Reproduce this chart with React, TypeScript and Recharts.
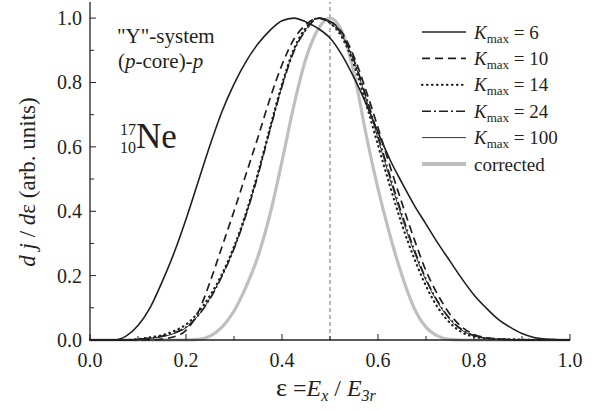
import React from 'react';
import { LineChart, Line, XAxis, YAxis, ReferenceLine } from 'recharts';

// ---- data ----
const eps = [0, 0.025, 0.05, 0.075, 0.1, 0.125, 0.15, 0.175, 0.2, 0.225, 0.25, 0.275, 0.3, 0.325, 0.35, 0.375, 0.4, 0.425, 0.45, 0.475, 0.5, 0.525, 0.55, 0.575, 0.6, 0.625, 0.65, 0.675, 0.7, 0.725, 0.75, 0.775, 0.8, 0.825, 0.85, 0.875, 0.9, 0.925, 0.95, 0.975, 1.0];
const kmax6 = [0, 0, 0, 0.012, 0.045, 0.1, 0.18, 0.27, 0.375, 0.49, 0.605, 0.71, 0.795, 0.865, 0.92, 0.962, 0.992, 1.0, 0.988, 0.968, 0.938, 0.885, 0.815, 0.735, 0.645, 0.56, 0.488, 0.42, 0.36, 0.3, 0.245, 0.19, 0.14, 0.1, 0.065, 0.04, 0.02, 0.008, 0.003, 0.001, 0];
const kmax10 = [0, 0, 0, 0, 0, 0, 0.003, 0.01, 0.03, 0.085, 0.18, 0.29, 0.4, 0.515, 0.63, 0.75, 0.855, 0.935, 0.98, 1.0, 0.99, 0.955, 0.88, 0.775, 0.66, 0.54, 0.425, 0.315, 0.215, 0.14, 0.08, 0.04, 0.017, 0.007, 0.003, 0.001, 0, 0, 0, 0, 0];
const kmax14 = [0, 0, 0, 0, 0.003, 0.008, 0.015, 0.028, 0.048, 0.085, 0.138, 0.205, 0.29, 0.395, 0.52, 0.66, 0.795, 0.905, 0.97, 1.0, 0.985, 0.94, 0.855, 0.735, 0.605, 0.478, 0.358, 0.255, 0.168, 0.1, 0.053, 0.024, 0.01, 0.005, 0.003, 0.002, 0.001, 0, 0, 0, 0];
const kmax24 = [0, 0, 0, 0, 0.002, 0.006, 0.012, 0.022, 0.04, 0.075, 0.128, 0.198, 0.283, 0.388, 0.512, 0.652, 0.787, 0.897, 0.963, 0.998, 0.99, 0.95, 0.87, 0.758, 0.635, 0.51, 0.39, 0.283, 0.19, 0.118, 0.066, 0.032, 0.014, 0.006, 0.003, 0.001, 0, 0, 0, 0, 0];
const kmax100 = [0, 0, 0, 0, 0.002, 0.005, 0.01, 0.02, 0.038, 0.075, 0.13, 0.2, 0.285, 0.39, 0.515, 0.655, 0.79, 0.9, 0.965, 1.0, 0.985, 0.945, 0.865, 0.75, 0.625, 0.5, 0.38, 0.275, 0.185, 0.115, 0.063, 0.03, 0.013, 0.006, 0.003, 0.001, 0, 0, 0, 0, 0];
const corrected = [0, 0, 0, 0, 0, 0, 0, 0, 0, 0.002, 0.012, 0.04, 0.09, 0.165, 0.26, 0.39, 0.555, 0.73, 0.875, 0.965, 1.0, 0.958, 0.83, 0.64, 0.47, 0.325, 0.2, 0.1, 0.04, 0.012, 0.002, 0, 0, 0, 0, 0, 0, 0, 0, 0, 0];

const xTicks = [0, 0.1, 0.2, 0.3, 0.4, 0.5, 0.6, 0.7, 0.8, 0.9, 1.0];
const yTicks = [0, 0.1, 0.2, 0.3, 0.4, 0.5, 0.6, 0.7, 0.8, 0.9, 1.0];
const seriesKeys = ['k6', 'k10', 'k14', 'k24', 'k100', 'corr'];
const seriesLabels = ['6', '10', '14', '24', '100', 'corrected'];

const rows = eps.map((e, i) => ({
  eps: e,
  k6: kmax6[i],
  k10: kmax10[i],
  k14: kmax14[i],
  k24: kmax24[i],
  k100: kmax100[i],
  corr: corrected[i],
}));

// ---- styles ----
const FONT = '"Liberation Serif", "Times New Roman", Times, serif';
const INK = '#231f20';
const GRAY = '#bdbfc1';

const styles: Record<string, { stroke: string; width: number; dash?: string; cap?: 'round' | 'butt' }> = {
  k6: { stroke: INK, width: 1.6 },
  k10: { stroke: INK, width: 1.7, dash: '8 5' },
  k14: { stroke: INK, width: 2.2, dash: '0.5 4.5', cap: 'round' },
  k24: { stroke: INK, width: 1.6, dash: '9 3 2 3' },
  k100: { stroke: INK, width: 0.9 },
  corr: { stroke: GRAY, width: 3.2 },
};

const isMajor = (v: number) => Math.round(v * 10) % 2 === 0;

const BottomTick = (p: any) => {
  const v = p.payload.value;
  const m = isMajor(v);
  return (
    <g>
      <line x1={p.x} x2={p.x} y1={p.y} y2={p.y - (m ? 6 : 4)} stroke={INK} strokeWidth={1} />
      {m && (
        <text x={p.x} y={p.y + 27} textAnchor="middle" fontSize={20} fontFamily={FONT} fill={INK}>
          {v.toFixed(1)}
        </text>
      )}
    </g>
  );
};

const TopTick = (p: any) => {
  const v = p.payload.value;
  const m = isMajor(v);
  return <line x1={p.x} x2={p.x} y1={p.y} y2={p.y + (m ? 6 : 4)} stroke={INK} strokeWidth={1} />;
};

const LeftTick = (p: any) => {
  const v = p.payload.value;
  const m = isMajor(v);
  return (
    <g>
      <line x1={p.x} x2={p.x + (m ? 6 : 4)} y1={p.y} y2={p.y} stroke={INK} strokeWidth={1} />
      {m && (
        <text x={p.x - 8} y={p.y + 7} textAnchor="end" fontSize={20} fontFamily={FONT} fill={INK}>
          {v.toFixed(1)}
        </text>
      )}
    </g>
  );
};

const RightTick = (p: any) => {
  const v = p.payload.value;
  const m = isMajor(v);
  return <line x1={p.x} x2={p.x - (m ? 6 : 4)} y1={p.y} y2={p.y} stroke={INK} strokeWidth={1} />;
};

export default function App() {
  const legendTop = 32;
  const legendStep = 26.4;
  return (
    <div style={{ position: 'absolute', left: 0, top: 0, width: 605, height: 410, background: '#fff' }}>
      <LineChart width={605} height={410} data={rows} margin={{ top: 2, right: 35, bottom: 40, left: 30 }}>
        <XAxis
          dataKey="eps"
          type="number"
          domain={[0, 1]}
          ticks={xTicks}
          interval={0}
          height={30}
          tickSize={0}
          tickMargin={0}
          tickLine={false}
          axisLine={{ stroke: INK, strokeWidth: 1.3 }}
          tick={<BottomTick />}
        />
        <XAxis
          xAxisId="top"
          orientation="top"
          dataKey="eps"
          type="number"
          domain={[0, 1]}
          ticks={xTicks}
          interval={0}
          height={0}
          tickSize={0}
          tickMargin={0}
          tickLine={false}
          axisLine={{ stroke: INK, strokeWidth: 1.3 }}
          tick={<TopTick />}
        />
        <YAxis
          type="number"
          domain={[0, 1.05]}
          ticks={yTicks}
          interval={0}
          width={60}
          tickSize={0}
          tickMargin={0}
          tickLine={false}
          axisLine={{ stroke: INK, strokeWidth: 1.3 }}
          tick={<LeftTick />}
        />
        <YAxis
          yAxisId="right"
          orientation="right"
          type="number"
          domain={[0, 1.05]}
          ticks={yTicks}
          interval={0}
          width={0}
          tickSize={0}
          tickMargin={0}
          tickLine={false}
          axisLine={{ stroke: INK, strokeWidth: 1.3 }}
          tick={<RightTick />}
        />
        <ReferenceLine x={0.5} stroke="#6d6e71" strokeWidth={1} strokeDasharray="4 3" />
        {['corr', 'k6', 'k10', 'k14', 'k24', 'k100'].map((k) => (
          <Line
            key={k}
            dataKey={k}
            type="monotone"
            dot={false}
            activeDot={false}
            stroke={styles[k].stroke}
            strokeWidth={styles[k].width}
            strokeDasharray={styles[k].dash}
            strokeLinecap={styles[k].cap || 'butt'}
            isAnimationActive={false}
          />
        ))}
      </LineChart>
      <svg
        width={605}
        height={410}
        style={{ position: 'absolute', left: 0, top: 0, pointerEvents: 'none' }}
        fontFamily={FONT}
        fill={INK}
      >
        {/* annotations */}
        <text x={117} y={43} fontSize={21}>"Y"-system</text>
        <text x={118} y={68} fontSize={21}>
          (<tspan fontStyle="italic">p</tspan>-core)-<tspan fontStyle="italic">p</tspan>
        </text>
        <text x={120} y={135} fontSize={16}>17</text>
        <text x={120} y={153} fontSize={16}>10</text>
        <text x={136} y={148} fontSize={35}>Ne</text>

        {/* axis titles */}
        <text x={276} y={396} fontSize={24}>
          <tspan fontSize={26}>ε</tspan>
          <tspan> =</tspan>
          <tspan fontStyle="italic">E</tspan>
          <tspan fontStyle="italic" fontSize={16} dy={5}>x</tspan>
          <tspan dy={-5}> / </tspan>
          <tspan fontStyle="italic">E</tspan>
          <tspan fontStyle="italic" fontSize={16} dy={5}>3r</tspan>
        </text>
        <text transform="rotate(-90)" x={-182} y={35} fontSize={23} textAnchor="middle">
          <tspan fontStyle="italic">d j</tspan>
          <tspan> / </tspan>
          <tspan fontStyle="italic">d</tspan>
          <tspan>ε (arb. units)</tspan>
        </text>

        {/* legend */}
        {seriesKeys.map((k, i) => {
          const y = legendTop + i * legendStep;
          const s = styles[k];
          return (
            <g key={k}>
              <line
                x1={422}
                x2={466}
                y1={y}
                y2={y}
                stroke={s.stroke}
                strokeWidth={k === 'corr' ? 4 : s.width}
                strokeDasharray={s.dash}
                strokeLinecap={s.cap || 'butt'}
              />
              {k === 'corr' ? (
                <text x={474} y={y + 6.5} fontSize={19}>{seriesLabels[i]}</text>
              ) : (
                <text x={474} y={y + 6.5} fontSize={19}>
                  <tspan fontStyle="italic">K</tspan>
                  <tspan fontSize={13} dy={4}>max</tspan>
                  <tspan dy={-4}> = {seriesLabels[i]}</tspan>
                </text>
              )}
            </g>
          );
        })}
      </svg>
    </div>
  );
}
